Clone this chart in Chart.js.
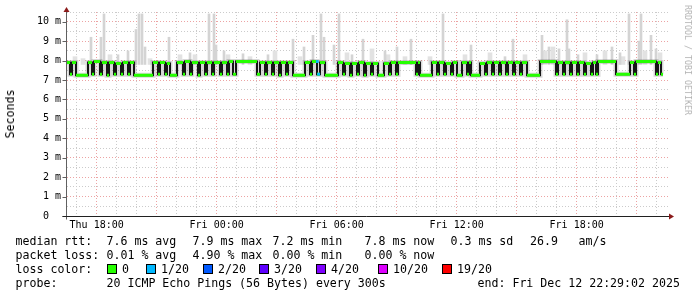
<!DOCTYPE html>
<html lang="en">
<head>
<meta charset="UTF-8">
<title>SmokePing median RTT</title>
<style>
  body { margin: 0; background: #fff; }
  #wrap { position: relative; width: 697px; height: 297px; overflow: hidden; font-family: 'DejaVu Sans Mono', monospace; color: #000; }
  #chart { position: absolute; left: 0; top: 0; }
  .t { position: absolute; white-space: pre; font-size: 11.6px; line-height: 14px; }
  .box { position: absolute; width: 10px; height: 10px; box-sizing: border-box; border: 1px solid #000; }
  #ylabel { position: absolute; left: 10px; top: 114px; transform: translate(-50%, -50%) rotate(-90deg); font-size: 11.6px; white-space: pre; }
  #credit { position: absolute; left: 688px; top: 60px; transform: translate(-50%, -50%) rotate(90deg); font-size: 8.3px; color: #b4b4b4; white-space: pre; }
</style>
</head>
<body>
<div id="wrap">
  <canvas id="chart" width="697" height="297"></canvas>
  <div id="ylabel">Seconds</div>
  <div id="credit">RRDTOOL / TOBI OETIKER</div>

  <div class="t" style="left:15.5px;top:234px">median rtt:</div>
  <div class="t" style="left:106.5px;top:234px">7.6 ms avg</div>
  <div class="t" style="left:192.5px;top:234px">7.9 ms max</div>
  <div class="t" style="left:272.5px;top:234px">7.2 ms min</div>
  <div class="t" style="left:364.5px;top:234px">7.8 ms now</div>
  <div class="t" style="left:450.5px;top:234px">0.3 ms sd</div>
  <div class="t" style="left:530px;top:234px">26.9</div>
  <div class="t" style="left:578.5px;top:234px">am/s</div>

  <div class="t" style="left:15.5px;top:248px">packet loss:</div>
  <div class="t" style="left:106.5px;top:248px">0.01 % avg</div>
  <div class="t" style="left:192.5px;top:248px">4.90 % max</div>
  <div class="t" style="left:272.5px;top:248px">0.00 % min</div>
  <div class="t" style="left:364.5px;top:248px">0.00 % now</div>

  <div class="t" style="left:15.5px;top:262px">loss color:</div>
  <div id="lossLegend"></div>

  <div class="t" style="left:15.5px;top:276px">probe:</div>
  <div class="t" style="left:106.5px;top:276px">20 ICMP Echo Pings (56 Bytes) every 300s</div>
  <div class="t" style="left:477.5px;top:276px">end: Fri Dec 12 22:29:02 2025</div>
</div>

<script src="https://cdn.jsdelivr.net/npm/chart.js"></script>
<script>
// time is in minutes from Thu 18:00, each entry starts a new median level
const medianTimes = [
  -89, -80, -74, -62, -26, -14, -8, 10, 16, 31,
  37, 52, 58, 73, 79, 94, 100, 112, 169, 184,
  190, 205, 211, 220, 241, 259, 265, 280, 286, 304,
  310, 325, 331, 346, 352, 370, 376, 391, 397, 409,
  418, 481, 490, 505, 511, 526, 532, 547, 553, 568,
  574, 589, 625, 640, 646, 661, 670, 685, 724, 739,
  745, 760, 766, 781, 787, 802, 808, 823, 829, 844,
  862, 877, 883, 898, 904, 958, 964, 970, 1006, 1021,
  1027, 1042, 1048, 1063, 1069, 1081, 1096, 1111, 1117, 1123,
  1150, 1165, 1171, 1186, 1192, 1207, 1213, 1228, 1234, 1249,
  1255, 1270, 1276, 1291, 1330, 1378, 1384, 1399, 1405, 1420,
  1426, 1441, 1447, 1462, 1468, 1483, 1489, 1498, 1504, 1558,
  1600, 1612, 1618, 1678, 1684, 1693, 1699
];
// median rtt in ms
const medianValues = [
  7.9, 7.3, 7.9, 7.25, 7.9, 7.3, 7.95, 7.3, 7.9, 7.25,
  7.9, 7.3, 7.85, 7.3, 7.9, 7.3, 7.9, 7.25, 7.9, 7.3,
  7.9, 7.3, 7.85, 7.25, 7.9, 7.3, 7.95, 7.3, 7.9, 7.25,
  7.9, 7.3, 7.9, 7.3, 7.9, 7.3, 7.9, 7.3, 7.95, 7.3,
  7.95, 7.3, 7.9, 7.3, 7.9, 7.3, 7.9, 7.25, 7.9, 7.3,
  7.9, 7.25, 7.9, 7.3, 7.95, 7.3, 7.9, 7.25, 7.9, 7.3,
  7.85, 7.25, 7.85, 7.3, 7.9, 7.25, 7.85, 7.3, 7.85, 7.25,
  7.85, 7.3, 7.9, 7.3, 7.9, 7.3, 7.9, 7.25, 7.9, 7.3,
  7.9, 7.3, 7.85, 7.3, 7.9, 7.25, 7.9, 7.3, 7.9, 7.25,
  7.85, 7.3, 7.9, 7.3, 7.9, 7.3, 7.9, 7.3, 7.9, 7.3,
  7.9, 7.3, 7.9, 7.25, 7.95, 7.3, 7.9, 7.3, 7.9, 7.3,
  7.9, 7.3, 7.9, 7.3, 7.85, 7.3, 7.9, 7.3, 7.95, 7.3,
  7.9, 7.3, 7.95, 7.3, 7.9, 7.3, 7.3
];

// smoke spikes (slowest pings)
const spikeTimes = [-17, 13, 22, 64, 94, 118, 127, 136, 145, 217, 280, 337, 352, 358, 382, 439,
  514, 589, 622, 649, 673, 682, 712, 727, 766, 799, 865, 901, 943, 1039, 1123, 1225, 1249,
  1336, 1357, 1387, 1411, 1417, 1444, 1501, 1546, 1570, 1597, 1627, 1633, 1663, 1678];
const spikeTops = [9.2, 9.2, 10.4, 8.3, 8.5, 9.6, 10.4, 10.4, 8.7, 9.2, 8.4, 10.4, 10.4, 8.8, 8.5, 8.35,
  8.3, 9.1, 8.7, 9.3, 10.4, 9.2, 8.8, 10.4, 8.3, 9.1, 8.5, 8.7, 9.1, 10.4, 8.8, 8.2, 9.1,
  9.3, 8.7, 8.6, 10.1, 8.6, 8.3, 8.3, 8.7, 8.4, 10.4, 9.0, 10.4, 9.3, 8.6];

// faint smoke just above the median
const hazeTimes = [-65, -41, 40, 160, 250, 295, 394, 460, 535, 610, 751, 826, 874, 925, 1000,
  1105, 1180, 1285, 1345, 1369, 1465, 1525, 1579, 1645, 1690];
const hazeTops = [8.2, 8.1, 8.3, 8.1, 8.3, 8.3, 8.3, 8.2, 8.5, 8.2, 8.4, 8.6, 8.3, 8.2, 8.2,
  8.3, 8.4, 8.3, 8.5, 8.7, 8.4, 8.5, 8.2, 8.5, 8.4];

// samples with 1/20 loss
const lossTimes = [662, 666];
const lossValues = [7.95, 7.3];

const timeTicks = [0, 360, 720, 1080, 1440];
const timeLabels = ['Thu 18:00', 'Fri 00:00', 'Fri 06:00', 'Fri 12:00', 'Fri 18:00'];

const lossLabels = ['0', '1/20', '2/20', '3/20', '4/20', '10/20', '19/20'];
const lossColors = ['#26ff00', '#00b8ff', '#0059ff', '#5e00ff', '#7e00ff', '#dd00ff', '#ff0000'];
const lossBoxX = [107, 146, 203, 259, 316, 378, 442];

// legend row for loss colours
const legendEl = document.getElementById('lossLegend');
lossLabels.forEach((lab, i) => {
    const b = document.createElement('div');
    b.className = 'box';
    b.style.left = lossBoxX[i] + 'px';
    b.style.top = '264px';
    b.style.background = lossColors[i];
    legendEl.appendChild(b);
    const t = document.createElement('div');
    t.className = 't';
    t.style.left = (lossBoxX[i] + 15) + 'px';
    t.style.top = '262px';
    t.textContent = lab;
    legendEl.appendChild(t);
});

const medianPoints = medianTimes.map((t, i) => ({x: t, y: medianValues[i]}));
const greenPoints = [];
for (let i = 0; i < medianTimes.length - 1; i++) {
    greenPoints.push({x: medianTimes[i], y: medianValues[i]});
    greenPoints.push({x: medianTimes[i + 1], y: medianValues[i]});
    greenPoints.push({x: medianTimes[i + 1], y: null});
}
const spikeBars = spikeTimes.map((t, i) => ({x: t, y: [7.8, spikeTops[i]]}));
const hazeBars = hazeTimes.map((t, i) => ({x: t, y: [7.8, hazeTops[i]]}));
const lossPoints = lossTimes.map((t, i) => ({x: t, y: lossValues[i]}));

const RED = '#eca3a3';
const GRAY = '#cbcbcb';

// axis lines, arrows and y tick marks like rrdtool
const rrdAxes = {
    id: 'rrdAxes',
    afterDatasetsDraw(chart) {
        const {ctx, chartArea: a, scales} = chart;
        const ax = a.left - 0.5;
        const ay = a.bottom + 0.5;
        ctx.save();
        ctx.lineWidth = 1;
        ctx.strokeStyle = '#606060';
        ctx.beginPath();
        ctx.moveTo(ax, ay + 3);
        ctx.lineTo(ax, a.top - 2);
        for (let v = 0; v <= 10; v++) {
            const y = Math.round(scales.y.getPixelForValue(v)) + 0.5;
            ctx.moveTo(ax - 4, y);
            ctx.lineTo(ax, y);
        }
        ctx.stroke();
        ctx.strokeStyle = '#202020';
        ctx.beginPath();
        ctx.moveTo(ax - 4, ay);
        ctx.lineTo(a.right + 2, ay);
        ctx.stroke();
        ctx.fillStyle = '#8b1a1a';
        ctx.beginPath();
        ctx.moveTo(ax - 3, a.top);
        ctx.lineTo(ax + 3, a.top);
        ctx.lineTo(ax, a.top - 5);
        ctx.closePath();
        ctx.fill();
        ctx.beginPath();
        ctx.moveTo(a.right, ay - 3);
        ctx.lineTo(a.right, ay + 3);
        ctx.lineTo(a.right + 5, ay);
        ctx.closePath();
        ctx.fill();
        ctx.restore();
    }
};

Chart.defaults.font.family = "'DejaVu Sans Mono', monospace";
Chart.defaults.font.size = 10;
Chart.defaults.color = '#000';

new Chart(document.getElementById('chart'), {
    type: 'line',
    data: {
        datasets: [
            {
                data: lossPoints,
                showLine: false,
                pointStyle: 'rect',
                pointRadius: 2,
                pointBorderWidth: 0,
                pointBackgroundColor: lossColors[1],
                order: 0
            },
            {
                data: greenPoints,
                borderColor: lossColors[0],
                borderWidth: 3,
                borderCapStyle: 'butt',
                pointRadius: 0,
                spanGaps: false,
                order: 1
            },
            {
                data: medianPoints,
                stepped: true,
                borderColor: '#151515',
                borderWidth: 2,
                pointRadius: 0,
                order: 2
            },
            {
                data: medianPoints,
                stepped: true,
                borderColor: 'rgba(60,60,60,0.2)',
                borderWidth: 5,
                pointRadius: 0,
                order: 3
            },
            {
                type: 'bar',
                data: spikeBars,
                backgroundColor: '#d4d4d4',
                barThickness: 2,
                order: 4
            },
            {
                type: 'bar',
                data: hazeBars,
                backgroundColor: '#e2e2e2',
                barThickness: 4,
                order: 5
            }
        ]
    },
    options: {
        responsive: false,
        animation: false,
        events: [],
        layout: { padding: { left: 0, right: 28, top: 12, bottom: 0 } },
        plugins: { legend: { display: false }, tooltip: { enabled: false } },
        datasets: { bar: { grouped: false } },
        scales: {
            x: {
                type: 'linear',
                min: -89,
                max: 1717,
                offset: false,
                afterFit: s => { s.height = 81; },
                afterBuildTicks: s => {
                    const ticks = [];
                    for (let v = -60; v <= 1680; v += 60) ticks.push({value: v});
                    s.ticks = ticks;
                },
                grid: {
                    offset: false,
                    drawTicks: false,
                    color: c => (c.tick && c.tick.value % 180 === 0) ? RED : GRAY
                },
                border: { display: false, dash: [1, 2] },
                ticks: {
                    autoSkip: false,
                    maxRotation: 0,
                    padding: 3,
                    callback: v => {
                        const i = timeTicks.indexOf(v);
                        return i >= 0 ? timeLabels[i] : '';
                    }
                }
            },
            y: {
                min: 0,
                max: 10.5,
                afterFit: s => { s.width = 67; },
                grid: {
                    drawTicks: false,
                    color: c => (c.tick && c.tick.value % 1 === 0) ? RED : GRAY
                },
                border: { display: false, dash: [1, 2] },
                ticks: {
                    stepSize: 0.5,
                    autoSkip: false,
                    padding: 6,
                    callback: v => {
                        if (v % 1 !== 0) return '';
                        return v === 0 ? '0  ' : v + ' m';
                    }
                }
            }
        }
    },
    plugins: [rrdAxes]
});
</script>
</body>
</html>
